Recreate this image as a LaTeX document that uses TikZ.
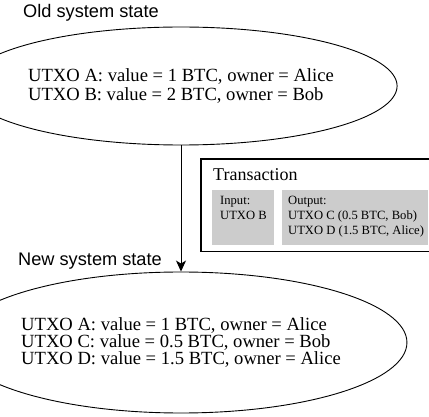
\documentclass[tikz,border=0pt]{standalone}
\usepackage{fontspec}
\setmainfont{Liberation Serif}
\setsansfont{Liberation Sans}
\usetikzlibrary{shapes.geometric,arrows.meta}
\definecolor{boxgray}{RGB}{204,204,204}
\tikzset{
  statebox/.style={draw, ellipse, line width=0.9pt, inner sep=0pt, align=left,
    font=\fontsize{18.6}{18.6}\selectfont},
  statelabel/.style={font=\sffamily\fontsize{18.2}{20}\selectfont, inner sep=0pt, anchor=west},
  graybox/.style={fill=boxgray, draw=none, inner sep=0pt, anchor=north west},
  smalltext/.style={font=\fontsize{12.6}{15}\selectfont, align=left, inner sep=0pt, anchor=north west},
  flow/.style={-{Stealth[length=11pt,width=10pt,inset=3pt]}, line width=1pt}
}
\begin{document}
\begin{tikzpicture}[x=1pt,y=-1pt]
\useasboundingbox (0,0) rectangle (429,417);
% labels
\node[statelabel] (oldlbl) at (23,13) {Old system state};
\node[statelabel] (newlbl) at (18,261) {New system state};
% states
\node[statebox, minimum width=352pt, minimum height=118pt] (old) at (181,86)
  {UTXO A: value = 1 BTC, owner = Alice\\UTXO B: value = 2 BTC, owner = Bob};
\node[statebox, minimum width=352pt, minimum height=141pt, font=\fontsize{18.6}{17.4}\selectfont] (new) at (181,342.5)
  {UTXO A: value = 1 BTC, owner = Alice\\UTXO C: value = 0.5 BTC, owner = Bob\\UTXO D: value = 1.5 BTC, owner = Alice};
% arrow
\draw[flow] (old.south) -- (new.north);
% transaction box (open to the right edge)
\coordinate (tr) at (430,159);
\coordinate (br) at (430,251.5);
\draw[line width=1.6pt] (tr) -- (201,159) -- (201,251.5) -- (br);
\node[font=\fontsize{18}{20}\selectfont, inner sep=0pt, anchor=west] (ttl) at (213,174.5) {Transaction};
\node[graybox, minimum width=62pt, minimum height=55pt] (inbox) at (212,190) {};
\node[graybox, minimum width=146pt, minimum height=55pt] (outbox) at (282,190) {};
\node[smalltext] (intext) at (220,196) {Input:\\UTXO B};
\node[smalltext] (outtext) at (288,196) {Output:\\UTXO C (0.5 BTC, Bob)\\UTXO D (1.5 BTC, Alice)};
\end{tikzpicture}
\end{document}
